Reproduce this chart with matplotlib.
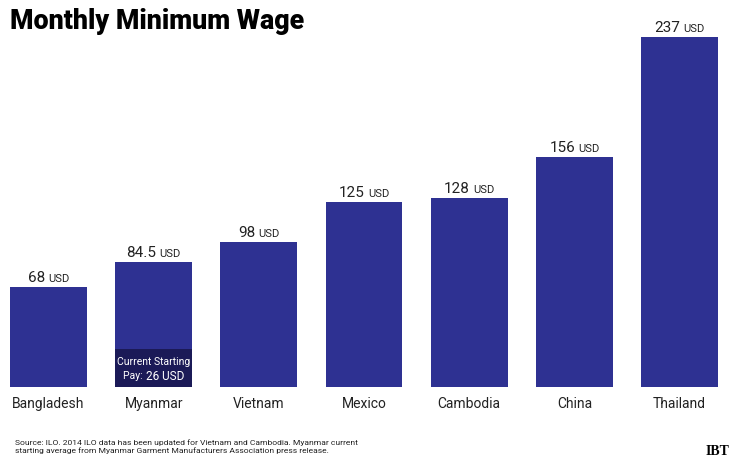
import matplotlib.pyplot as plt

countries = ["Bangladesh", "Myanmar", "Vietnam", "Mexico", "Cambodia", "China", "Thailand"]
wages = [68, 84.5, 98, 125, 128, 156, 237]
wage_labels = ["68", "84.5", "98", "125", "128", "156", "237"]
myanmar_current = 26

bar_color = "#2e3192"
dark_color = "#1b1a57"

plt.rcParams['font.family'] = ['Roboto', 'DejaVu Sans']

fig = plt.figure(figsize=(7.36, 4.69), dpi=100)
ax = fig.add_axes([0, 0.1748, 1, 0.8252])

x = list(range(len(countries)))
ax.bar(x, wages, width=0.732, color=bar_color)
ax.bar([1], [myanmar_current], width=0.732, color=dark_color)

ax.set_xlim(-0.461, 6.537)
ax.set_ylim(0, 262)
ax.axis('off')

# value labels: number + smaller "USD", centered as a pair
renderer = fig.canvas.get_renderer()
for i, (v, lab) in enumerate(zip(wages, wage_labels)):
    t1 = ax.annotate(lab, (i, v), xytext=(0, 3), textcoords='offset pixels',
                     ha='left', va='baseline', fontsize=11, color='#222222')
    t2 = ax.annotate("USD", (i, v), xytext=(0, 3), textcoords='offset pixels',
                     ha='left', va='baseline', fontsize=8, color='#222222')
    w1 = t1.get_window_extent(renderer).width
    w2 = t2.get_window_extent(renderer).width
    gap = 3
    total = w1 + gap + w2
    t1.set_position((-total / 2, 5))
    t2.set_position((-total / 2 + w1 + gap, 5))

# category labels
for i, c in enumerate(countries):
    ax.annotate(c, (i, 0), xytext=(0, -10), textcoords='offset pixels',
                ha='center', va='top', fontsize=10, color='#222222')

# Myanmar current starting pay
ax.annotate("Current Starting", (1, myanmar_current), xytext=(0, -8),
            textcoords='offset pixels', ha='center', va='top',
            fontsize=7.5, color='white')
p1 = ax.annotate("Pay: ", (1, myanmar_current), xytext=(0, -22),
                 textcoords='offset pixels', ha='left', va='top',
                 fontsize=7.5, color='white')
p2 = ax.annotate(f"{myanmar_current} USD", (1, myanmar_current), xytext=(0, -21),
                 textcoords='offset pixels', ha='left', va='top',
                 fontsize=8.5, color='white')
w1 = p1.get_window_extent(renderer).width
w2 = p2.get_window_extent(renderer).width
p1.set_position((-(w1 + w2) / 2, -22))
p2.set_position((-(w1 + w2) / 2 + w1, -21))

fig.text(10 / 736, 1 - 8 / 469, "Monthly Minimum Wage", ha='left', va='top',
         fontsize=19.3, fontweight='heavy', color='black')

fig.text(15 / 736, 1 - 439 / 469,
         "Source: ILO. 2014 ILO data has been updated for Vietnam and Cambodia. Myanmar current\n"
         "starting average from Myanmar Garment Manufacturers Association press release.",
         ha='left', va='top', fontsize=6.1, color='#222222', linespacing=1.3)

fig.text(729 / 736, 1 - 451 / 469, "IBT", ha='right', va='center',
         fontsize=10, fontweight='bold', family='Liberation Serif', color='black')

fig.savefig("out.png", dpi=100)
